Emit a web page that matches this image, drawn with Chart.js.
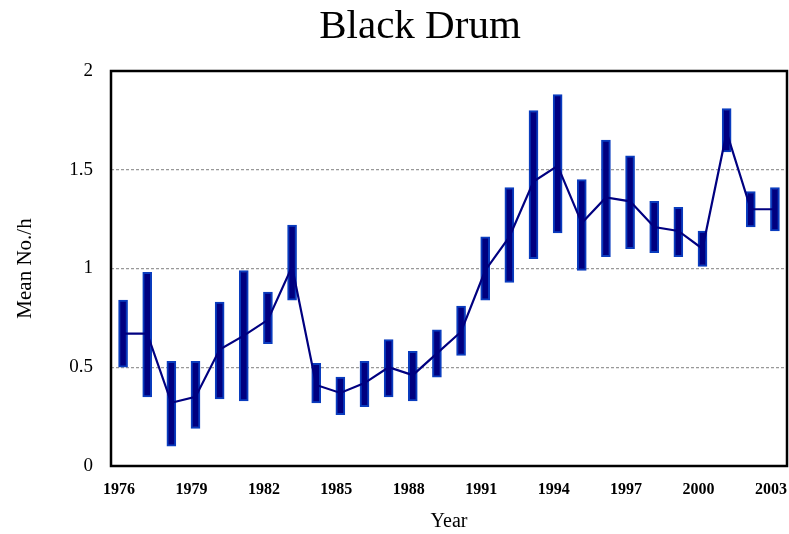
<!DOCTYPE html>
<html>
<head>
<meta charset="utf-8">
<script src="https://cdn.jsdelivr.net/npm/chart.js@4.4.0/dist/chart.umd.min.js"></script>
<style>
  body { margin: 0; background: #fff; }
  #wrap { width: 789px; height: 534px; }
</style>
</head>
<body>
<div id="wrap"><canvas id="drumChart" width="789" height="534"></canvas></div>
<script>
const years = ['1976','1977','1978','1979','1980','1981','1982','1983','1984','1985',
               '1986','1987','1988','1989','1990','1991','1992','1993','1994','1995',
               '1996','1997','1998','1999','2000','2001','2002','2003'];
const meanValues = [0.67, 0.67, 0.32, 0.35, 0.59, 0.66, 0.74, 1.01, 0.41, 0.37,
                    0.42, 0.50, 0.46, 0.57, 0.68, 0.99, 1.16, 1.44, 1.52, 1.23,
                    1.36, 1.34, 1.21, 1.19, 1.10, 1.69, 1.30, 1.30];
const lowValues = [0.50, 0.35, 0.10, 0.19, 0.34, 0.33, 0.62, 0.84, 0.32, 0.26,
                   0.30, 0.35, 0.33, 0.45, 0.56, 0.84, 0.93, 1.05, 1.18, 0.99,
                   1.06, 1.10, 1.08, 1.06, 1.01, 1.59, 1.21, 1.19];
const highValues = [0.84, 0.98, 0.53, 0.53, 0.83, 0.99, 0.88, 1.22, 0.52, 0.45,
                    0.53, 0.64, 0.58, 0.69, 0.81, 1.16, 1.41, 1.80, 1.88, 1.45,
                    1.65, 1.57, 1.34, 1.31, 1.19, 1.81, 1.39, 1.41];
const yTicks = [0, 0.5, 1, 1.5, 2];
const chartTitle = 'Black Drum';

const serif = "'Liberation Serif', 'Times New Roman', serif";

// black frame round the plot area, and the title (sits right of centre in the original)
const frame = {
    id: 'frame',
    afterDraw(chart) {
        const a = chart.chartArea;
        const ctx = chart.ctx;
        ctx.save();
        ctx.strokeStyle = '#000';
        ctx.lineWidth = 2.5;
        ctx.strokeRect(a.left, a.top, a.right - a.left, a.bottom - a.top);

        ctx.fillStyle = '#000';
        ctx.font = '41px ' + serif;
        ctx.textAlign = 'center';
        ctx.textBaseline = 'alphabetic';
        ctx.fillText(chartTitle, 420, 38);
        ctx.restore();
    }
};

const ctx = document.getElementById('drumChart').getContext('2d');

new Chart(ctx, {
    data: {
        labels: years,
        datasets: [{
            type: 'line',
            data: meanValues,
            borderColor: '#000080',
            borderWidth: 2.2,
            pointRadius: 0,
            tension: 0,
            order: 0
        }, {
            type: 'bar',
            data: years.map((y, i) => [lowValues[i], highValues[i]]),
            backgroundColor: '#000080',
            borderColor: '#0a3cbe',
            borderWidth: 2,
            borderSkipped: false,
            barThickness: 9,
            order: 1
        }]
    },
    options: {
        responsive: false,
        animation: false,
        layout: { padding: { left: 0, right: 2, top: 71, bottom: 0 } },
        scales: {
            x: {
                offset: true,
                grid: { display: false, drawTicks: false },
                border: { display: false },
                ticks: {
                    autoSkip: false,
                    maxRotation: 0,
                    padding: 14,
                    labelOffset: -4,
                    color: '#000',
                    font: { family: serif, size: 16, weight: 'bold' },
                    callback: function (val, i) {
                        return i % 3 === 0 ? years[i] : '';
                    }
                },
                title: {
                    display: true,
                    text: 'Year',
                    color: '#000',
                    font: { family: serif, size: 20 },
                    padding: { top: 2, bottom: 0 }
                },
                afterFit: function (scale) {
                    scale.height = 68;
                    scale.paddingLeft = 0;
                    scale.paddingRight = 0;
                }
            },
            y: {
                min: 0,
                max: 2,
                afterBuildTicks: function (scale) {
                    scale.ticks = yTicks.map(v => ({ value: v }));
                },
                grid: {
                    drawTicks: false,
                    color: function (c) {
                        const v = c.tick.value;
                        return (v > 0 && v < 2) ? '#999999' : 'rgba(0,0,0,0)';
                    },
                    lineWidth: 1.2
                },
                // in v4 the grid line dash lives under border
                border: { display: false, dash: [3, 2] },
                ticks: {
                    padding: 18,
                    color: '#000',
                    font: { family: serif, size: 19 },
                    callback: function (v) { return String(v); }
                },
                title: {
                    display: true,
                    text: 'Mean No./h',
                    color: '#000',
                    font: { family: serif, size: 21 },
                    padding: { top: 13, bottom: 4 }
                },
                afterFit: function (scale) {
                    scale.width = 111;
                    scale.paddingTop = 0;
                    scale.paddingBottom = 0;
                }
            }
        },
        plugins: {
            legend: { display: false },
            tooltip: { enabled: false },
            title: { display: false }
        }
    },
    plugins: [frame]
});
</script>
</body>
</html>
